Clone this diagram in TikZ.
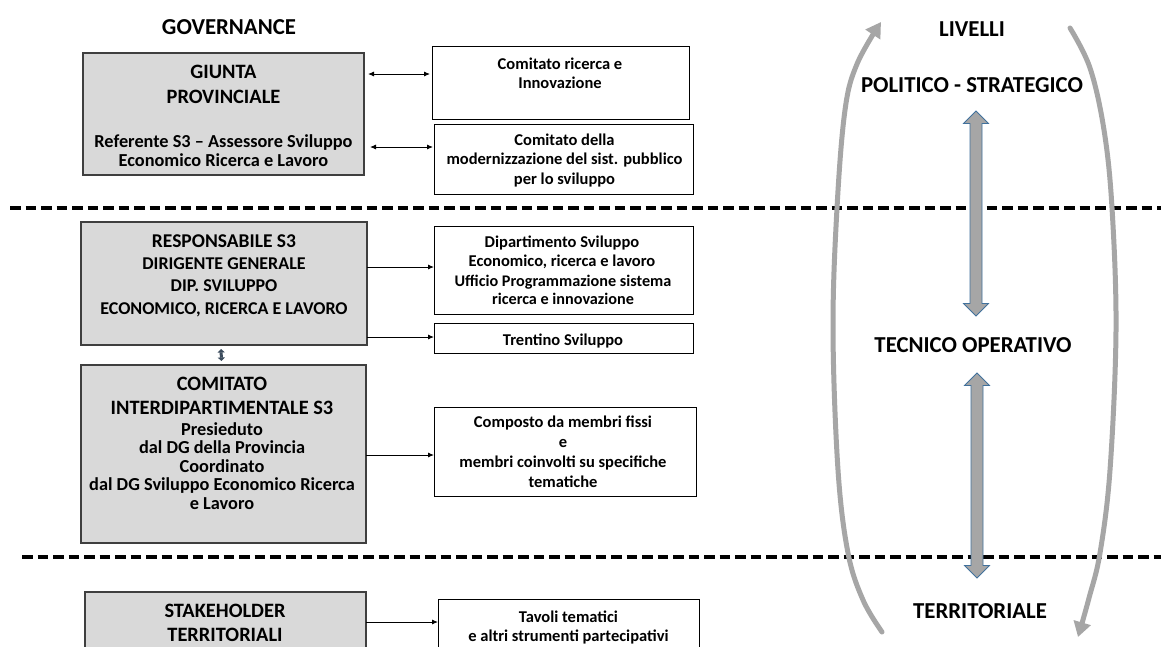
\documentclass[tikz,border=0pt]{standalone}
\usepackage{fontspec}
\setmainfont{Carlito}
\usetikzlibrary{arrows.meta,calc}
\definecolor{boxgray}{HTML}{D9D9D9}
\definecolor{boxedge}{HTML}{3F3F3F}
\definecolor{curvegray}{HTML}{A6A6A6}
\definecolor{blockedge}{HTML}{41719C}
\definecolor{smallarr}{HTML}{3B4B5C}
\begin{document}
\begin{tikzpicture}[x=1pt,y=-1pt,
  graybox/.style={draw=boxedge, line width=1.8pt, fill=boxgray, inner sep=0pt, outer sep=0pt, anchor=north west},
  whitebox/.style={draw=black, line width=0.9pt, fill=white, inner sep=0pt, outer sep=0pt, anchor=north west},
  headtxt/.style={font=\bfseries\fontsize{20.4}{24.5}\selectfont, align=center, inner sep=0pt, anchor=base},
  resptxt/.style={font=\bfseries\fontsize{18}{22.3}\selectfont, align=center, inner sep=0pt, anchor=base},
  subtxt/.style={font=\bfseries\fontsize{18.3}{18.5}\selectfont, align=center, inner sep=0pt, anchor=base},
  smalltxt/.style={font=\bfseries\fontsize{16.5}{19.5}\selectfont, align=center, inner sep=0pt, anchor=base},
  leveltxt/.style={font=\bfseries\fontsize{22.8}{26}\selectfont, inner sep=0pt, anchor=base},
  link/.style={draw=black, line width=0.9pt, -{Latex[length=6pt,width=5pt]}},
  dlink/.style={draw=black, line width=0.9pt, {Latex[length=6pt,width=5pt]}-{Latex[length=6pt,width=5pt]}},
  sepline/.style={draw=black, line width=3.5pt, dash pattern=on 10.5pt off 5pt},
  loopcurve/.style={draw=curvegray, line width=5pt, line cap=round, -{Triangle[length=15pt,width=17pt]}},
  blockarrow/.style={fill=curvegray, draw=blockedge, line width=0.8pt, line join=miter}
]
\clip (0,0) rectangle (1161,646);
\fill[white] (0,0) rectangle (1161,646);

% separators
\draw[sepline] (10,208) -- (1161,208);
\draw[sepline] (22,557) -- (1161,557);

% title
\node[leveltxt] (gov) at (229,34) {GOVERNANCE};

% gray boxes
\node[graybox, minimum width=281pt, minimum height=122pt] (giunta) at (83,53) {};
\node[graybox, minimum width=286pt, minimum height=123pt] (resp) at (81,222) {};
\node[graybox, minimum width=285pt, minimum height=178pt] (comit) at (81,365) {};
\node[graybox, minimum width=281pt, minimum height=90pt] (stake) at (85,592) {};

\node[headtxt, font=\bfseries\fontsize{20.4}{25}\selectfont] (giuntahead) at (223.5,103) {GIUNTA\\PROVINCIALE};
\node[subtxt] (giuntasub) at (223.5,166) {Referente S3 – Assessore Sviluppo\\Economico Ricerca e Lavoro};
\node[resptxt] (resptext) at (224,314) {{\fontsize{19.5}{22.3}\selectfont RESPONSABILE S3}\\DIRIGENTE GENERALE\\DIP. SVILUPPO\\ECONOMICO, RICERCA E LAVORO};
\node[headtxt, font=\bfseries\fontsize{20.4}{24}\selectfont] (comithead) at (222,414) {COMITATO\\INTERDIPARTIMENTALE S3};
\node[subtxt] (comitsub) at (222,509) {Presieduto\\dal DG della Provincia\\Coordinato\\dal DG Sviluppo Economico Ricerca\\e Lavoro};
\node[headtxt, font=\bfseries\fontsize{20.4}{24}\selectfont] (staketext) at (225,641) {STAKEHOLDER\\TERRITORIALI};

% white boxes
\node[whitebox, minimum width=257pt, minimum height=73pt] (comric) at (432,46) {};
\node[whitebox, minimum width=259pt, minimum height=70pt] (commod) at (434,124) {};
\node[whitebox, minimum width=259pt, minimum height=88pt] (dip) at (434,226) {};
\node[whitebox, minimum width=259pt, minimum height=30pt] (trent) at (434,323) {};
\node[whitebox, minimum width=262pt, minimum height=89pt] (comp) at (434,407) {};
\node[whitebox, minimum width=261pt, minimum height=70pt] (tavoli) at (438,599) {};

\node[smalltxt] (comrictext) at (560,88.5) {Comitato ricerca e\\Innovazione};
\node[smalltxt] (commodtext) at (564.5,184) {Comitato della\\modernizzazione del sist. pubblico\\per lo sviluppo};
\node[smalltxt, font=\bfseries\fontsize{16.5}{19}\selectfont] (diptext) at (562,266) {Dipartimento Sviluppo\\Economico, ricerca e lavoro};
\node[smalltxt, font=\bfseries\fontsize{16.2}{18}\selectfont] (ufftext) at (563,304) {Ufficio Programmazione sistema\\ricerca e innovazione};
\node[smalltxt] (trenttext) at (563,345) {Trentino Sviluppo};
\node[smalltxt, font=\bfseries\fontsize{16.5}{20}\selectfont] (comptext) at (563,487) {Composto da membri fissi\\e\\membri coinvolti su specifiche\\tematiche};
\node[smalltxt, font=\bfseries\fontsize{16.5}{19}\selectfont] (tavolitext) at (568.5,641) {Tavoli tematici\\e altri strumenti partecipativi};

% connectors
\draw[dlink] ($(giunta.east)+(4,-40)$) -- ($(comric.west)+(-2,-8.5)$);
\draw[dlink] ($(giunta.east)+(6,33)$) -- ($(commod.west)+(-1,-12)$);
\draw[link] ($(resp.east)+(0,-16.5)$) -- ($(dip.west)+(0,-3)$);
\draw[link] ($(resp.east)+(0,53.5)$) -- ($(trent.west)+(0,-1)$);
\draw[link] ($(comit.east)+(0,1)$) -- ($(comp.west)+(0,3.5)$);
\draw[link] ($(stake.north east)+(0,30)$) -- ($(tavoli.north west)+(0,23)$);
\draw[draw=smallarr, line width=3pt, {Triangle[length=3.5pt,width=7pt]}-{Triangle[length=3.5pt,width=7pt]}, shorten <=4pt, shorten >=4pt] ([xshift=-3pt]resp.south) -- ([xshift=-2pt]comit.north);

% levels
\node[leveltxt] (livelli) at (972,36) {LIVELLI};
\node[leveltxt] (politico) at (972,92) {POLITICO - STRATEGICO};
\node[leveltxt] (tecnico) at (973,352) {TECNICO OPERATIVO};
\node[leveltxt] (territ) at (980,618) {TERRITORIALE};

% block double arrows
\draw[blockarrow] (976,111) -- (988.5,123.5) -- (982,123.5) -- (982,303.5) -- (988.5,303.5) -- (976,316) -- (963.5,303.5) -- (970,303.5) -- (970,123.5) -- (963.5,123.5) -- cycle;
\draw[blockarrow] (977,373) -- (989.5,385.5) -- (983,385.5) -- (983,565.5) -- (989.5,565.5) -- (977,578) -- (964.5,565.5) -- (971,565.5) -- (971,385.5) -- (964.5,385.5) -- cycle;

% cycle curves
\draw[loopcurve] plot[smooth, tension=0.6] coordinates {(882,632) (863,600) (848,553) (838,470) (833,330) (837,208) (845,110) (857,64) (881,22)};
\draw[loopcurve] plot[smooth, tension=0.6] coordinates {(1070,28) (1090,68) (1104,130) (1112,208) (1116,330) (1110,470) (1100,553) (1089,598) (1078,637)};
\end{tikzpicture}
\end{document}
